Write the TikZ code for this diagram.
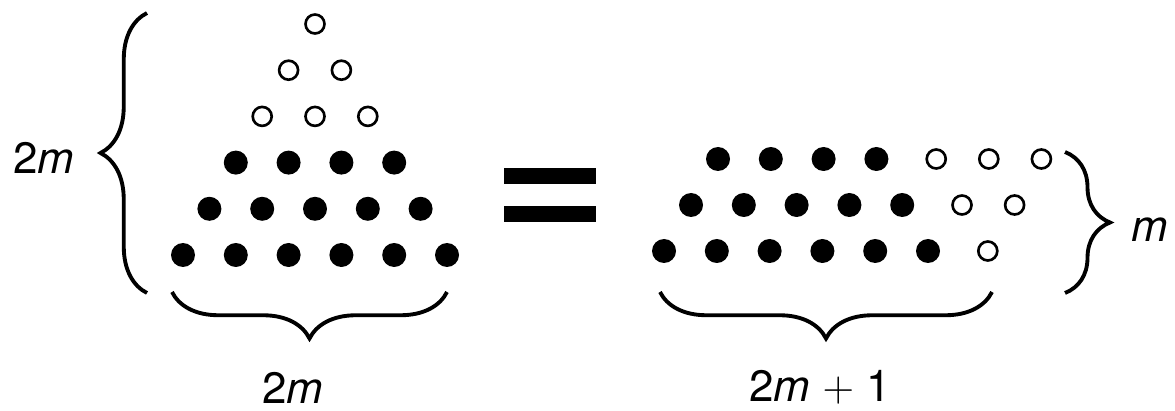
\documentclass[tikz,border=0pt]{standalone}
\usepackage{fontspec}
\setmainfont{TeX Gyre Heros}
\usetikzlibrary{positioning}
\usetikzlibrary{decorations.pathreplacing}
\tikzstyle{full dot}=[circle,fill=black,inner sep=0pt,minimum size=0.48cm]
\tikzstyle{open dot}=[circle,draw=black,line width=1.5pt,inner sep=0pt,minimum size=0.38cm]
\tikzstyle{count brace}=[decorate,decoration={brace,amplitude=0.93cm},line width=2.2pt]
\tikzstyle{count label}=[inner sep=0pt,font=\fontsize{25}{30}\selectfont]
\newcommand{\countlabel}[3][]{
  \node [count label, #1] (#2) {#3}
}

\begin{document}
\begin{tikzpicture}[x=0.02cm,y=-0.02cm]
        \useasboundingbox (0,0) rectangle (1175,411);
        % triangle of 2m rows
        \foreach \r in {1,2,3}
          \foreach \c in {1,...,\r}
            \node[open dot] (t\r-\c) at ({315-(\r-1)*26.4+(\c-1)*52.8},{24+(\r-1)*46.2}) {};
        \foreach \r in {4,5,6}
          \foreach \c in {1,...,\r}
            \node[full dot] (t\r-\c) at ({315-(\r-1)*26.4+(\c-1)*52.8},{24+(\r-1)*46.2}) {};
        % rectangle of m rows
        \foreach \r/\nf/\no in {1/4/3,2/5/2,3/6/1}{
          \foreach \c in {1,...,\nf}
            \node[full dot] (rf\r-\c) at ({664+(3-\r)*27+(\c-1)*52.8},{159+(\r-1)*46}) {};
          \foreach \c in {1,...,\no}
            \node[open dot] (ro\r-\c) at ({664+(3-\r)*27+(\nf-1)*52.8+59.8+(\c-1)*52.6},{159+(\r-1)*46}) {};
        }
        \fill (504,168) rectangle (596,184);
        \fill (504,206) rectangle (596,222);

        \coordinate (lb-top) at (147,13);
        \coordinate (lb-bot) at (147,293);
        \coordinate (bl-left) at (172,292);
        \coordinate (bl-right) at (447,292);
        \coordinate (br-left) at (660,292);
        \coordinate (br-right) at (992,292);
        \coordinate (rb-top) at (1065,152);
        \coordinate (rb-bot) at (1065,293);
      \draw[count brace] (lb-bot) -- (lb-top);
            \draw[count brace] (bl-right) -- (bl-left);
                  \draw[count brace] (br-right) -- (br-left);
                        \draw[count brace,decoration={amplitude=0.9cm}] (rb-top) -- (rb-bot);

\countlabel[anchor=base, at={(44,174)}]{h-left}{2\textit{m}};
\countlabel[anchor=base, at={(293,403)}]{w-left}{2\textit{m}};
\countlabel[anchor=base, at={(820,401)}]{w-right}{2\textit{m} $+$ 1};
\countlabel[anchor=base, at={(1150,242)}]{h-right}{\textit{m}};

      \end{tikzpicture}
\end{document}
